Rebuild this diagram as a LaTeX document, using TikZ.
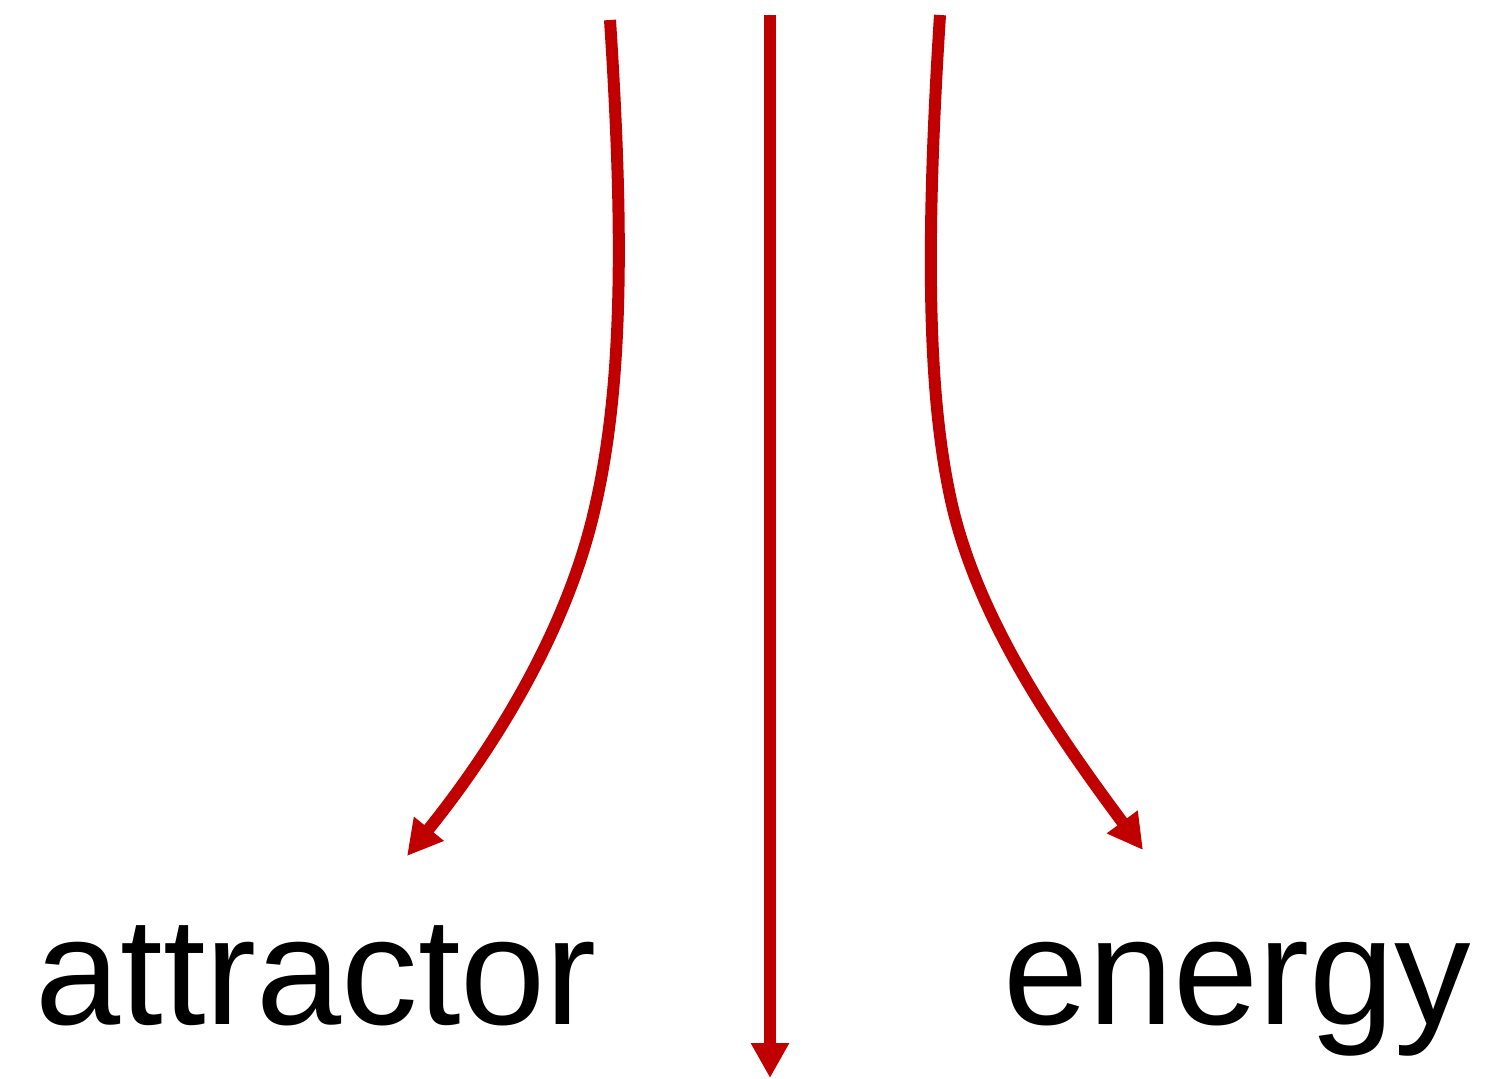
\documentclass[tikz,border=0pt]{standalone}
\usepackage{fontspec}
\setmainfont{Liberation Sans}
\usetikzlibrary{arrows.meta}
\definecolor{arrowred}{HTML}{C00000}
\tikzset{
  flow/.style={draw=arrowred, line width=6pt, -{Triangle[length=17.5pt,width=18pt]}, arrowred},
  word/.style={anchor=base west, inner sep=0pt, font=\fontsize{76.5}{90}\selectfont}
}
\begin{document}
\begin{tikzpicture}[x=0.5pt,y=-0.5pt]
\useasboundingbox (0,0) rectangle (1498,1078);
\coordinate (ltop) at (610,20);
\coordinate (lmid) at (592,520);
\coordinate (ltip) at (407,856);
\coordinate (ctop) at (770,15);
\coordinate (ctip) at (770,1078);
\coordinate (rtop) at (940,15);
\coordinate (rmid) at (952,505);
\coordinate (rtip) at (1143,850);
\draw[flow] (ltop) .. controls (625,250) and (622,400) .. (lmid)
  .. controls (562,640) and (490,753) .. (ltip);
\draw[flow] (ctop) -- (ctip);
\draw[flow] (rtop) .. controls (925,250) and (928,400) .. (rmid)
  .. controls (980,625) and (1060,738) .. (rtip);
\node[word] (attr) at (35,1024) {attractor};
\node[word] (ener) at (1003,1024) {energy};
\end{tikzpicture}
\end{document}
